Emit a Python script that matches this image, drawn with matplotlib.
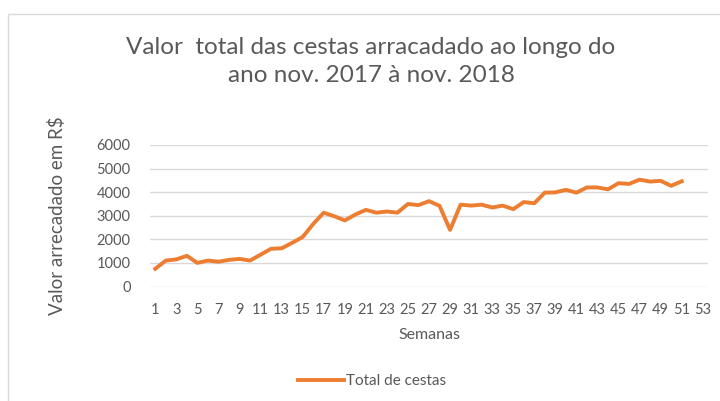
import matplotlib
matplotlib.use("Agg")
import matplotlib.pyplot as plt
from matplotlib.patches import Rectangle

plt.rcParams['font.family'] = ['Lato', 'DejaVu Sans']

# dados
semanas = list(range(1, 52))
valores = [750, 1100, 1150, 1300, 1000, 1100, 1050, 1130, 1170, 1100,
           1350, 1600, 1620, 1850, 2100, 2650, 3130, 2980, 2800, 3050,
           3250, 3130, 3180, 3130, 3500, 3450, 3620, 3420, 2400, 3470,
           3430, 3470, 3350, 3430, 3280, 3580, 3530, 3980, 3990, 4100,
           3980, 4200, 4200, 4120, 4380, 4350, 4530, 4450, 4480, 4270,
           4460]
xticks = list(range(1, 54, 2))
yticks = [0, 1000, 2000, 3000, 4000, 5000, 6000]

cinza = '#595959'
laranja = '#ED7D31'

fig = plt.figure(figsize=(7.2, 4.01), dpi=100)

# moldura do gráfico (cortada à direita e em baixo)
fig.patches.append(Rectangle((8/720, -0.05), 1.0, 1 - 14/401 + 0.05,
                             transform=fig.transFigure, fill=False,
                             edgecolor='#D9D9D9', lw=1.0))

ax = fig.add_axes([150/720, 1 - 286.5/401, (708 - 150)/720, (286.5 - 145)/401])
ax.plot(semanas, valores, color=laranja, lw=2.8, solid_joinstyle='round',
        label='Total de cestas')

ax.set_xlim(0.5, 53.5)
ax.set_ylim(0, 6000)
ax.set_xticks(xticks)
ax.set_xticklabels([str(t) for t in xticks])
ax.set_yticks(yticks)
ax.grid(axis='y', color='#D9D9D9', lw=1.0)
ax.set_axisbelow(True)
for s in ax.spines.values():
    s.set_visible(False)
ax.tick_params(length=0, colors=cinza, labelsize=10.5)
ax.tick_params(axis='x', pad=12)
ax.tick_params(axis='y', pad=14)

ax.set_xlabel('Semanas', color=cinza, fontsize=11.5, labelpad=8)
ax.set_ylabel('Valor arrecadado em R$', color=cinza, fontsize=13.5, labelpad=22)

fig.text(371/720, 1 - 47/401, 'Valor  total das cestas arracadado ao longo do',
         ha='center', va='center', fontsize=17.5, color=cinza)
fig.text(371/720, 1 - 76/401, 'ano nov. 2017 à nov. 2018',
         ha='center', va='center', fontsize=17.5, color=cinza)

leg = fig.legend(loc='center', bbox_to_anchor=(372/720, 1 - 381/401),
                 frameon=False, fontsize=11, handlelength=3.0,
                 handletextpad=0.1, labelcolor=cinza)

fig.savefig('out.png', dpi=100)
